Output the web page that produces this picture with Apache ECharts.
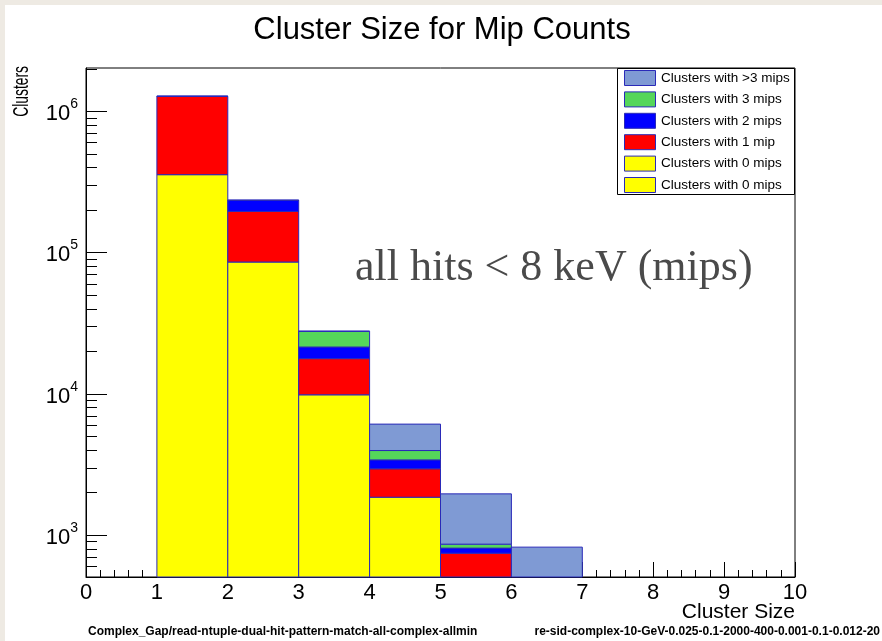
<!DOCTYPE html>
<html>
<head>
<meta charset="utf-8">
<title>Cluster Size for Mip Counts</title>
<script src="https://cdn.jsdelivr.net/npm/echarts@6/dist/echarts.min.js"></script>
<style>
  html, body { margin: 0; padding: 0; width: 882px; height: 641px; overflow: hidden; background: #eeeae3; }
  #paper { position: absolute; left: 5px; top: 5px; right: 0; bottom: 0; background: #ffffff; }
  #chart { position: absolute; left: 0; top: 0; width: 882px; height: 641px; }
</style>
</head>
<body>
<div id="paper"></div>
<div id="chart"></div>
<script>
// Histogram bins (cluster size)
const binLow  = [1, 2, 3, 4, 5, 6];
const binHigh = [2, 3, 4, 5, 6, 7];

// Per-category counts per bin, stacked bottom to top
const zeroMips  = [355000, 85500, 9820, 1850, 300, 150];
const oneMip    = [915000, 109500, 7880, 1090, 443, 200];
const twoMips   = [3000, 38000, 3700, 460, 64, 40];
const threeMips = [500, 1000, 6200, 560, 54, 30];
const moreMips  = [200, 300, 150, 2130, 1093, 400];

// Legend entries, top to bottom
const legendLabels = [
  'Clusters with >3 mips',
  'Clusters with 3 mips',
  'Clusters with 2 mips',
  'Clusters with 1 mip',
  'Clusters with 0 mips',
  'Clusters with 0 mips'
];
const legendColors = ['#7f9ad4', '#55d65a', '#0000ff', '#ff0000', '#ffff00', '#ffff00'];

// Axis settings
const xTickLabels = ['0', '1', '2', '3', '4', '5', '6', '7', '8', '9', '10'];
const yMin = 504;
const yMax = 2.02e6;
const yMajorTicks = [1e3, 1e4, 1e5, 1e6];
const yMinorTicks = [];
[100, 1000, 10000, 100000, 1000000].forEach(function (d) {
  for (let k = 2; k <= 9; k++) {
    const v = k * d;
    if (v >= yMin && v <= yMax) yMinorTicks.push(v);
  }
});

const layers = [
  { name: 'Clusters with 0 mips', values: zeroMips,  color: '#ffff00' },
  { name: 'Clusters with 1 mip',  values: oneMip,    color: '#ff0000' },
  { name: 'Clusters with 2 mips', values: twoMips,   color: '#0000ff' },
  { name: 'Clusters with 3 mips', values: threeMips, color: '#55d65a' },
  { name: 'Clusters with >3 mips', values: moreMips, color: '#7f9ad4' }
];
const edgeColor = '#2a2ab8';

// Cumulative stacking
const running = binLow.map(function () { return 0; });
const histSeries = layers.map(function (layer, li) {
  const data = binLow.map(function (lo, i) {
    const base = running[i];
    const top = base + layer.values[i];
    running[i] = top;
    return [lo, binHigh[i], base, top];
  });
  return {
    type: 'custom',
    name: layer.name,
    z: 2 + li,
    encode: { x: [0, 1], y: [3] },
    data: data,
    renderItem: function (params, api) {
      const x0 = api.value(0), x1 = api.value(1);
      const lo = api.value(2) > 0 ? api.value(2) : yMin / 100;
      const hi = api.value(3);
      const pTop = api.coord([x0, hi]);
      const pBot = api.coord([x1, lo]);
      const cs = params.coordSys;
      const r = echarts.graphic.clipRectByRect(
        { x: pTop[0], y: pTop[1], width: pBot[0] - pTop[0], height: pBot[1] - pTop[1] },
        { x: cs.x, y: cs.y, width: cs.width, height: cs.height }
      );
      if (!r || r.height <= 0) return null;
      return {
        type: 'rect',
        shape: r,
        style: { fill: layer.color, stroke: edgeColor, lineWidth: 1 }
      };
    }
  };
});

// Y ticks drawn inside the frame: long at decades, short in between
const tickSeries = {
  type: 'custom',
  name: 'yticks',
  z: 20,
  silent: true,
  encode: { x: [0], y: [1] },
  data: yMajorTicks.map(function (v) { return [0, v, 21]; })
    .concat(yMinorTicks.map(function (v) { return [0, v, 11]; })),
  renderItem: function (params, api) {
    const p = api.coord([api.value(0), api.value(1)]);
    const y = Math.round(p[1]) + 0.5;
    return {
      type: 'line',
      shape: { x1: p[0], y1: y, x2: p[0] + api.value(2), y2: y },
      style: { stroke: '#000', lineWidth: 1 }
    };
  }
};

const font = '"Liberation Sans", Arial, Helvetica, sans-serif';

// Legend box
const legendGraphic = [{
  type: 'rect',
  z: 50,
  shape: { x: 617.5, y: 68.5, width: 177, height: 126 },
  style: { fill: '#fff', stroke: '#000', lineWidth: 1 }
}];
legendLabels.forEach(function (txt, i) {
  const cy = 78 + i * 21.4;
  legendGraphic.push({
    type: 'rect',
    z: 51,
    shape: { x: 624.5, y: cy - 7.5, width: 31, height: 15 },
    style: { fill: legendColors[i], stroke: edgeColor, lineWidth: 1 }
  });
  legendGraphic.push({
    type: 'text',
    z: 51,
    x: 661, y: cy,
    style: { text: txt, fill: '#000', font: '13.5px ' + font, textVerticalAlign: 'middle', textAlign: 'left' }
  });
});

const chart = echarts.init(document.getElementById('chart'), null, { renderer: 'canvas' });
chart.setOption({
  animation: false,
  backgroundColor: 'transparent',
  title: {
    text: 'Cluster Size for Mip Counts',
    left: 437,
    top: 10,
    textAlign: 'center',
    textStyle: { fontFamily: font, fontSize: 31, fontWeight: 'normal', color: '#000' }
  },
  grid: {
    left: 86, top: 68, width: 709, height: 509,
    show: true, backgroundColor: '#fff', borderColor: '#000', borderWidth: 1
  },
  xAxis: {
    type: 'value',
    min: 0, max: 10, interval: 1,
    axisLine: { show: true, lineStyle: { color: '#000', width: 1 } },
    axisTick: { show: true, inside: true, length: 15, lineStyle: { color: '#000', width: 1 } },
    minorTick: { show: true, splitNumber: 5, length: 7, lineStyle: { color: '#000', width: 1 } },
    splitLine: { show: false },
    axisLabel: {
      margin: 5, color: '#000', fontFamily: font, fontSize: 22,
      formatter: function (v) { return xTickLabels[Math.round(v)]; }
    }
  },
  yAxis: {
    type: 'log',
    logBase: 10,
    min: yMin, max: yMax,
    axisLine: { show: true, lineStyle: { color: '#000', width: 1 } },
    axisTick: { show: false },
    minorTick: { show: false },
    splitLine: { show: false },
    axisLabel: {
      margin: 8,
      color: '#000',
      formatter: function (v) {
        const e = Math.log10(v);
        if (Math.abs(e - Math.round(e)) > 1e-6) return '';
        return '{b|10}{e|' + Math.round(e) + '}';
      },
      rich: {
        b: { fontFamily: font, fontSize: 22, color: '#000', verticalAlign: 'bottom', lineHeight: 28 },
        e: { fontFamily: font, fontSize: 14, color: '#000', verticalAlign: 'top', lineHeight: 28 }
      }
    }
  },
  graphic: legendGraphic.concat([
    {
      type: 'text', z: 40, x: 355, y: 268,
      style: { text: 'all hits < 8 keV (mips)', fill: '#4a4a4a', font: '44px "Liberation Serif", "Times New Roman", serif', textVerticalAlign: 'middle', textAlign: 'left' }
    },
    {
      type: 'text', z: 40, x: 22, y: 66, rotation: Math.PI / 2, scaleX: 0.63,
      style: { text: 'Clusters', fill: '#000', font: '22px ' + font, textAlign: 'right', textVerticalAlign: 'middle' }
    },
    {
      type: 'text', z: 40, x: 795, y: 612,
      style: { text: 'Cluster Size', fill: '#000', font: '21px ' + font, textAlign: 'right', textVerticalAlign: 'middle' }
    },
    {
      type: 'text', z: 40, x: 88, y: 632,
      style: { text: 'Complex_Gap/read-ntuple-dual-hit-pattern-match-all-complex-allmin', fill: '#000', font: 'bold 12px ' + font, textAlign: 'left', textVerticalAlign: 'middle' }
    },
    {
      type: 'text', z: 40, x: 880, y: 632,
      style: { text: 're-sid-complex-10-GeV-0.025-0.1-2000-400-0.001-0.1-0.012-20', fill: '#000', font: 'bold 12px ' + font, textAlign: 'right', textVerticalAlign: 'middle' }
    }
  ]),
  series: histSeries.concat([tickSeries])
});
</script>
</body>
</html>
